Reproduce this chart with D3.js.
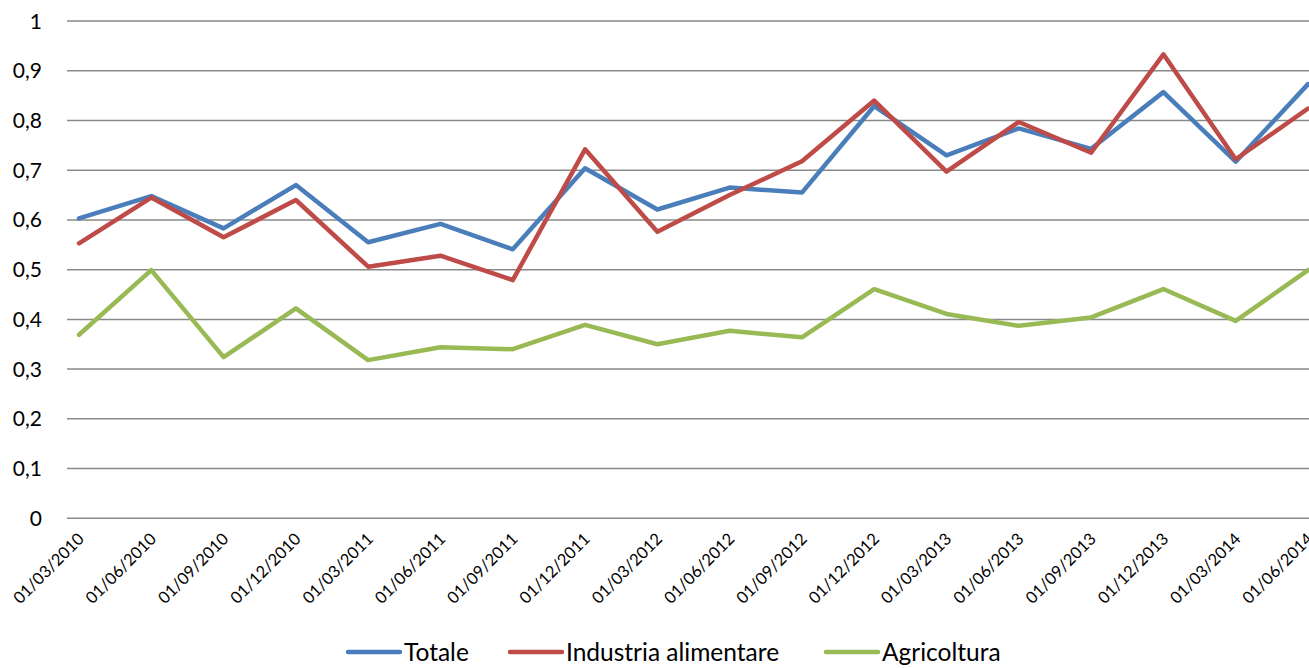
<!DOCTYPE html>
<html lang="en">
<head>
<meta charset="UTF-8">
<title>Totale / Industria alimentare / Agricoltura</title>
<script src="https://d3js.org/d3.v7.min.js"></script>
<style>
  body { margin: 0; background: #fff; }
  svg text { font-family: Lato, "Open Sans", sans-serif; fill: #000; }
</style>
</head>
<body>
<svg id="chart" width="1309" height="668"></svg>
<script>
// quarterly dates
var dates = ["01/03/2010", "01/06/2010", "01/09/2010", "01/12/2010",
  "01/03/2011", "01/06/2011", "01/09/2011", "01/12/2011",
  "01/03/2012", "01/06/2012", "01/09/2012", "01/12/2012",
  "01/03/2013", "01/06/2013", "01/09/2013", "01/12/2013",
  "01/03/2014", "01/06/2014"];

var totale = [0.603, 0.648, 0.583, 0.670, 0.555, 0.592, 0.541, 0.704, 0.621,
  0.665, 0.655, 0.829, 0.730, 0.784, 0.743, 0.857, 0.717, 0.873];
var industria = [0.553, 0.645, 0.565, 0.640, 0.506, 0.528, 0.479, 0.742, 0.576,
  0.650, 0.718, 0.840, 0.697, 0.797, 0.735, 0.933, 0.722, 0.824];
var agricoltura = [0.369, 0.499, 0.324, 0.422, 0.318, 0.344, 0.340, 0.389, 0.350,
  0.377, 0.364, 0.461, 0.411, 0.387, 0.404, 0.461, 0.397, 0.499];

var yTicks = [0, 0.1, 0.2, 0.3, 0.4, 0.5, 0.6, 0.7, 0.8, 0.9, 1];

var series = [
  { name: "Totale", values: totale, color: "#4a7ebb" },
  { name: "Industria alimentare", values: industria, color: "#be4b48" },
  { name: "Agricoltura", values: agricoltura, color: "#98b954" }
];

var svg = d3.select("#chart");

var x = d3.scalePoint().domain(dates).range([79, 1308]);
var y = d3.scaleLinear().domain([0, 1]).range([518.3, 21]);

// gridlines
svg.append("g")
  .selectAll("line")
  .data(yTicks)
  .enter()
  .append("line")
  .attr("x1", 67)
  .attr("x2", 1309)
  .attr("y1", d => y(d))
  .attr("y2", d => y(d))
  .attr("stroke", "#898989")
  .attr("stroke-width", 1.5);

// y labels
var fmt = d3.format(".1f");
svg.append("g")
  .selectAll("text")
  .data(yTicks)
  .enter()
  .append("text")
  .attr("x", 42)
  .attr("y", d => y(d))
  .attr("dy", "0.36em")
  .attr("text-anchor", "end")
  .style("font-size", "21px")
  .text(d => d === 0 ? "0" : d === 1 ? "1" : fmt(d).replace(".", ","));

// x labels, rotated
svg.append("g")
  .selectAll("text")
  .data(dates)
  .enter()
  .append("text")
  .attr("transform", d => "translate(" + (x(d) + 6) + ",540) rotate(-45)")
  .attr("text-anchor", "end")
  .style("font-size", "16.5px")
  .text(d => d);

// lines
var line = d3.line()
  .x((d, i) => x(dates[i]))
  .y(d => y(d));

svg.append("g")
  .selectAll("path")
  .data(series)
  .enter()
  .append("path")
  .attr("d", d => line(d.values))
  .attr("fill", "none")
  .attr("stroke", d => d.color)
  .attr("stroke-width", 4.5)
  .attr("stroke-linejoin", "round")
  .attr("stroke-linecap", "round");

// legend
var legendX = [348, 510, 826];
var legend = svg.append("g")
  .selectAll("g")
  .data(series)
  .enter()
  .append("g")
  .attr("transform", (d, i) => "translate(" + legendX[i] + ",652)");

legend.append("line")
  .attr("x1", 0)
  .attr("x2", 52)
  .attr("stroke", d => d.color)
  .attr("stroke-width", 4.5)
  .attr("stroke-linecap", "round");

legend.append("text")
  .attr("x", 56)
  .attr("dy", "0.36em")
  .style("font-size", "24.5px")
  .text(d => d.name);
</script>
</body>
</html>
